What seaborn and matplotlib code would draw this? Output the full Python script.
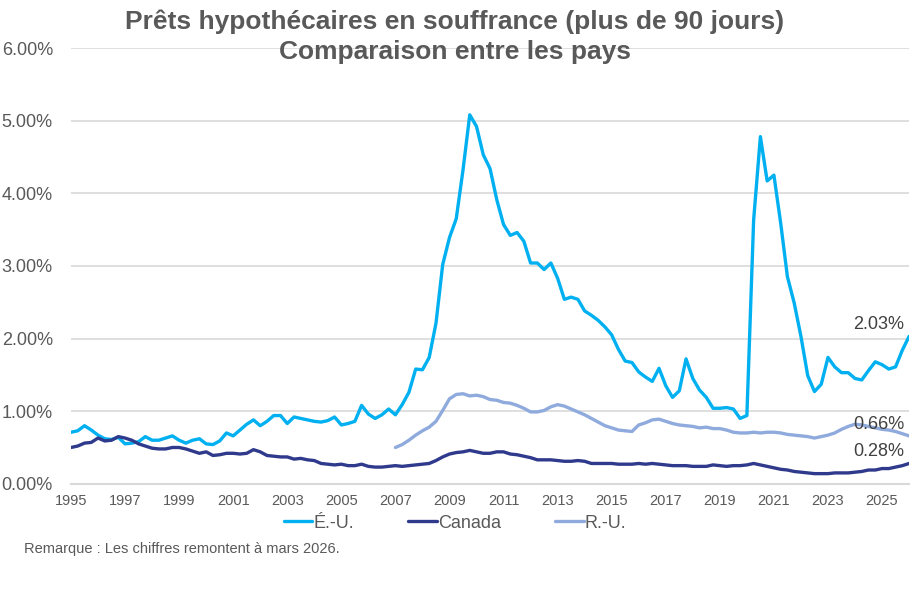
import numpy as np
import pandas as pd
import matplotlib
matplotlib.use("Agg")
import matplotlib.pyplot as plt
import seaborn as sns

# Données trimestrielles (T1 1995 à T1 2026), en %
trimestres = pd.period_range("1995Q1", "2026Q1", freq="Q")

eu = [0.71, 0.73, 0.80, 0.74, 0.67, 0.62, 0.61, 0.64, 0.55, 0.56, 0.58, 0.65,
      0.60, 0.60, 0.63, 0.66, 0.60, 0.56, 0.60, 0.62, 0.55, 0.54, 0.59, 0.70,
      0.66, 0.74, 0.82, 0.88, 0.80, 0.86, 0.94, 0.94, 0.83, 0.92, 0.90, 0.88,
      0.86, 0.85, 0.87, 0.92, 0.81, 0.83, 0.86, 1.08, 0.96, 0.90, 0.95, 1.03,
      0.95, 1.09, 1.26, 1.58, 1.57, 1.74, 2.21, 3.02, 3.39, 3.65, 4.32, 5.08,
      4.92, 4.53, 4.34, 3.91, 3.57, 3.42, 3.46, 3.34, 3.04, 3.04, 2.95, 3.04,
      2.83, 2.54, 2.57, 2.54, 2.38, 2.32, 2.25, 2.16, 2.05, 1.85, 1.69, 1.67,
      1.54, 1.47, 1.41, 1.59, 1.35, 1.19, 1.28, 1.72, 1.45, 1.29, 1.19, 1.04,
      1.04, 1.05, 1.03, 0.90, 0.94, 3.63, 4.78, 4.17, 4.25, 3.59, 2.85, 2.49,
      2.03, 1.49, 1.27, 1.37, 1.74, 1.61, 1.53, 1.53, 1.45, 1.43, 1.56, 1.68,
      1.64, 1.58, 1.61, 1.84, 2.03]

canada = [0.50, 0.52, 0.56, 0.57, 0.63, 0.59, 0.60, 0.65, 0.63, 0.60, 0.55, 0.52,
          0.49, 0.48, 0.48, 0.50, 0.50, 0.48, 0.45, 0.42, 0.44, 0.39, 0.40, 0.42,
          0.42, 0.41, 0.42, 0.47, 0.44, 0.39, 0.38, 0.37, 0.37, 0.34, 0.35, 0.33,
          0.32, 0.28, 0.27, 0.26, 0.27, 0.25, 0.25, 0.27, 0.24, 0.23, 0.23, 0.24,
          0.25, 0.24, 0.25, 0.26, 0.27, 0.28, 0.32, 0.37, 0.41, 0.43, 0.44, 0.46,
          0.44, 0.42, 0.42, 0.44, 0.44, 0.41, 0.40, 0.38, 0.36, 0.33, 0.33, 0.33,
          0.32, 0.31, 0.31, 0.32, 0.31, 0.28, 0.28, 0.28, 0.28, 0.27, 0.27, 0.27,
          0.28, 0.27, 0.28, 0.27, 0.26, 0.25, 0.25, 0.25, 0.24, 0.24, 0.24, 0.26,
          0.25, 0.24, 0.25, 0.25, 0.26, 0.28, 0.26, 0.24, 0.22, 0.20, 0.19, 0.17,
          0.16, 0.15, 0.14, 0.14, 0.14, 0.15, 0.15, 0.15, 0.16, 0.17, 0.19, 0.19,
          0.21, 0.21, 0.23, 0.25, 0.28]

# R.-U. : série disponible à partir de 2007
ru = [np.nan] * 48 + [
      0.50, 0.54, 0.60, 0.67, 0.73, 0.78, 0.86, 1.01, 1.17, 1.23, 1.24, 1.21,
      1.22, 1.20, 1.16, 1.15, 1.12, 1.11, 1.08, 1.04, 0.99, 0.99, 1.01, 1.06,
      1.09, 1.07, 1.03, 0.99, 0.95, 0.90, 0.85, 0.80, 0.77, 0.74, 0.73, 0.72,
      0.81, 0.84, 0.88, 0.89, 0.86, 0.83, 0.81, 0.80, 0.79, 0.77, 0.78, 0.76,
      0.76, 0.74, 0.71, 0.70, 0.70, 0.71, 0.70, 0.71, 0.71, 0.70, 0.68, 0.67,
      0.66, 0.65, 0.63, 0.65, 0.67, 0.70, 0.75, 0.79, 0.82, 0.81, 0.79, 0.77,
      0.75, 0.74, 0.72, 0.69, 0.66]

pays = ["É.-U.", "Canada", "R.-U."]
couleurs = {"É.-U.": "#00B0F0", "Canada": "#2F3A8C", "R.-U.": "#8FAADC"}

annees_ticks = list(range(1995, 2026, 2))

df = pd.DataFrame({
    "date": trimestres.year + (trimestres.quarter - 1) / 4,
    "É.-U.": eu,
    "Canada": canada,
    "R.-U.": ru,
})
df_long = df.melt(id_vars="date", var_name="pays", value_name="taux").dropna()

sns.set_theme(style="white")
plt.rcParams["font.family"] = ["Liberation Sans", "DejaVu Sans"]

gris_texte = "#595959"
gris_grille = "#D9D9D9"

fig = plt.figure(figsize=(9.1, 6.04), dpi=100)
ax = fig.add_axes([0.078, 0.199, 0.921, 0.7215])

sns.lineplot(data=df_long, x="date", y="taux", hue="pays", hue_order=pays,
             palette=couleurs, linewidth=2.4, estimator=None, ax=ax)

ax.set_xlim(1995, 2026)
ax.set_ylim(0, 6)
ax.set_yticks(range(0, 7))
ax.set_yticklabels([f"{v:.2f}%" for v in range(0, 7)], fontsize=13, color=gris_texte)
ax.set_xticks(annees_ticks)
ax.set_xticklabels([str(a) for a in annees_ticks], fontsize=10.5, color=gris_texte)
ax.tick_params(axis="y", length=0, pad=13)
ax.tick_params(axis="x", length=5, width=1.2, color=gris_grille, pad=2, direction="out")
ax.yaxis.grid(True, color=gris_grille, linewidth=1.2)
ax.set_axisbelow(True)
for s in ["top", "right", "left"]:
    ax.spines[s].set_visible(False)
ax.spines["bottom"].set_color(gris_grille)
ax.spines["bottom"].set_linewidth(1.5)
ax.set_xlabel("")
ax.set_ylabel("")

# étiquettes de la dernière valeur
for serie, nom in [(eu, "É.-U."), (ru, "R.-U."), (canada, "Canada")]:
    ax.annotate(f"{serie[-1]:.2f}%", xy=(df["date"].iloc[-1], serie[-1]),
                xytext=(-3.5, 8.5), textcoords="offset points",
                ha="right", va="center", fontsize=13, color="#404040")

handles, labels = ax.get_legend_handles_labels()
ax.get_legend().remove()
fig.legend(handles, labels, loc="center", bbox_to_anchor=(0.5, 0.134), ncol=3,
           frameon=False, fontsize=13, handlelength=1.6, handletextpad=0.05,
           columnspacing=3.0, labelcolor=gris_texte)

fig.text(0.5, 1 - 22 / 604, "Prêts hypothécaires en souffrance (plus de 90 jours)",
         ha="center", va="center", fontsize=19, fontweight="bold", color=gris_texte)
fig.text(0.5, 1 - 52 / 604, "Comparaison entre les pays",
         ha="center", va="center", fontsize=19, fontweight="bold", color=gris_texte)
fig.text(0.026, 1 - 549 / 604, "Remarque : Les chiffres remontent à mars 2026.",
         ha="left", va="center", fontsize=10.5, color=gris_texte)

fig.savefig("out.png", dpi=100)
